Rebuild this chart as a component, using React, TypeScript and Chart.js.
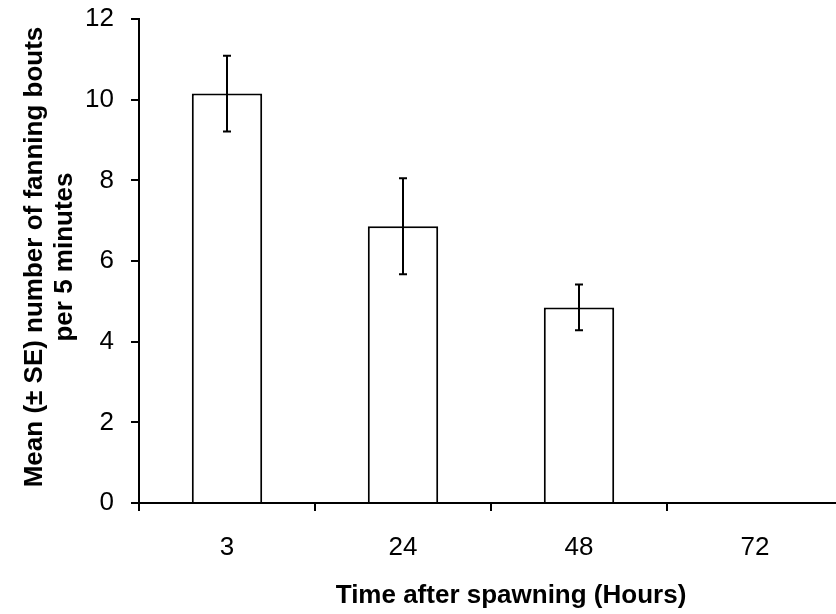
import React, { useEffect, useRef } from "react";
import { Chart, registerables, Plugin } from "chart.js";

Chart.register(...registerables);

// hours after spawning
const hours = ["3", "24", "48", "72"];
// mean fanning bouts per 5 minutes, and its standard error
const meanBouts = [10.15, 6.86, 4.85, 0];
const seBouts = [0.94, 1.19, 0.57, 0];

const yTitle = ["Mean (\u00B1 SE) number of fanning bouts", "per 5 minutes"];
const xTitle = "Time after spawning (Hours)";

const FONT = "'Liberation Sans', Arial, sans-serif";

const errorBars: Plugin<"bar"> = {
  id: "errorBars",
  afterDatasetsDraw(chart) {
    const { ctx } = chart;
    const y = chart.scales.y;
    const meta = chart.getDatasetMeta(0);
    ctx.save();
    ctx.strokeStyle = "#000";
    ctx.lineWidth = 2;
    meta.data.forEach((bar, i) => {
      if (!seBouts[i]) return;
      const top = y.getPixelForValue(meanBouts[i] + seBouts[i]);
      const bottom = y.getPixelForValue(meanBouts[i] - seBouts[i]);
      ctx.beginPath();
      ctx.moveTo(bar.x, top);
      ctx.lineTo(bar.x, bottom);
      ctx.moveTo(bar.x - 4, top);
      ctx.lineTo(bar.x + 4, top);
      ctx.moveTo(bar.x - 4, bottom);
      ctx.lineTo(bar.x + 4, bottom);
      ctx.stroke();
    });
    ctx.restore();
  },
};

// axis titles drawn by hand so they sit where the original has them
const axisTitles: Plugin<"bar"> = {
  id: "axisTitles",
  afterDraw(chart) {
    const { ctx, chartArea } = chart;
    ctx.save();
    ctx.fillStyle = "#000";
    ctx.font = `bold 26px ${FONT}`;
    ctx.textAlign = "center";
    ctx.textBaseline = "alphabetic";
    ctx.fillText(xTitle, 511, 603);

    const midY = (chartArea.top + chartArea.bottom) / 2 - 4;
    yTitle.forEach((line, i) => {
      ctx.save();
      ctx.translate(42 + i * 30, midY);
      ctx.rotate(-Math.PI / 2);
      ctx.fillText(line, 0, 0);
      ctx.restore();
    });
    ctx.restore();
  },
};

const App: React.FC = () => {
  const canvas = useRef<HTMLCanvasElement>(null);

  useEffect(() => {
    const chart = new Chart(canvas.current!.getContext("2d")!, {
      type: "bar",
      data: {
        labels: hours,
        datasets: [
          {
            data: meanBouts,
            backgroundColor: "#fff",
            borderColor: "#000",
            borderWidth: 2,
            barPercentage: 0.4,
            categoryPercentage: 1,
          },
        ],
      },
      options: {
        responsive: true,
        maintainAspectRatio: false,
        animation: false,
        layout: { padding: { top: 19, left: 0, right: 0, bottom: 0 } },
        plugins: {
          legend: { display: false },
          tooltip: { enabled: false },
        },
        scales: {
          x: {
            border: { color: "#000", width: 2 },
            grid: {
              offset: true,
              drawOnChartArea: false,
              drawTicks: true,
              tickLength: 8,
              color: "#000",
              lineWidth: 2,
            },
            ticks: {
              color: "#000",
              padding: 21,
              font: { family: FONT, size: 26 },
            },
            afterFit: scale => {
              scale.height = 111;
            },
          },
          y: {
            min: 0,
            max: 12,
            border: { color: "#000", width: 2 },
            grid: {
              drawOnChartArea: false,
              drawTicks: true,
              tickLength: 8,
              color: "#000",
              lineWidth: 2,
            },
            ticks: {
              stepSize: 2,
              color: "#000",
              padding: 17,
              font: { family: FONT, size: 26 },
            },
            afterFit: scale => {
              scale.width = 139;
              // the top label fits inside the layout padding already
              (scale as any).paddingTop = 0;
              (scale as any).paddingBottom = 0;
            },
          },
        },
      },
      plugins: [errorBars, axisTitles],
    });

    return () => {
      chart.destroy();
    };
  }, []);

  return (
    <div style={{ position: "fixed", left: 0, top: 0, width: 836, height: 614, overflow: "hidden", background: "#fff" }}>
      <div style={{ position: "relative", width: 843, height: 614 }}>
        <canvas ref={canvas}></canvas>
      </div>
    </div>
  );
};

export default App;
